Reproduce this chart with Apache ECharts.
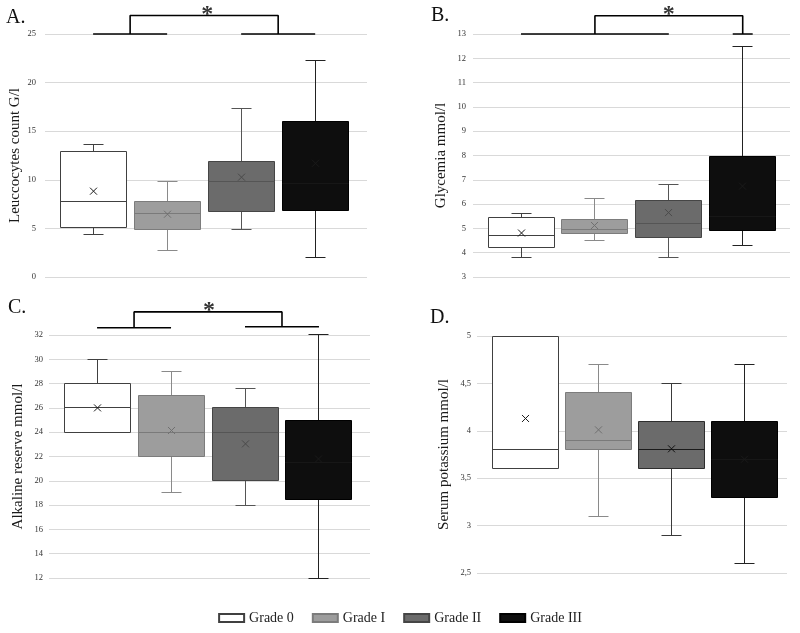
<!DOCTYPE html>
<html><head><meta charset="utf-8">
<script src="https://cdn.jsdelivr.net/npm/echarts@6/dist/echarts.min.js"></script>
<style>html,body{margin:0;padding:0;background:#fff}#c{width:800px;height:633px}</style>
</head><body><div id="c"></div>
<script>
// ---------- DATA ----------
const grades = ['Grade 0', 'Grade I', 'Grade II', 'Grade III'];
// box statistics per grade: [min, Q1, median, Q3, max]
const leucoBox = [[4.4, 5.05, 7.8, 12.95, 13.6], [2.75, 4.88, 6.52, 7.8, 9.86], [4.88, 6.73, 9.86, 11.85, 17.34], [1.96, 6.8, 9.6, 16.04, 22.3]];
const leucoMean = [8.83, 6.46, 10.27, 11.7];
const glyBox = [[3.81, 4.21, 4.70, 5.45, 5.6], [4.51, 4.77, 4.95, 5.35, 6.21], [3.81, 4.61, 5.21, 6.16, 6.82], [4.3, 4.9, 5.5, 7.97, 12.5]];
const glyMean = [4.81, 5.12, 5.65, 6.74];
const alkBox = [[24, 24, 26, 28, 30], [19, 22, 24, 27, 29], [18, 20, 24, 26, 27.6], [12, 18.5, 21.5, 25, 32]];
const alkMean = [26.0, 24.14, 23.04, 21.8];
const potBox = [[3.6, 3.6, 3.8, 5.0, 5.0], [3.1, 3.8, 3.9, 4.4, 4.7], [2.9, 3.6, 3.8, 4.1, 4.5], [2.6, 3.3, 3.7, 4.1, 4.7]];
const potMean = [4.13, 4.01, 3.81, 3.7];

const panelLetters = ['A.', 'B.', 'C.', 'D.'];
const yNames = ['Leuccocytes count G/l', 'Glycemia mmol/l', 'Alkaline reserve mmol/l', 'Serum potassium mmol/l'];
const yMin = [0, 3, 12, 2.5];
const yMax = [25, 13, 32, 5];
const yStep = [5, 1, 2, 0.5];

// significance annotations (in data units: x = grade index, y = axis value)
const sigBaseLines = [
  [[0, 1, 25], [2, 3, 25]],
  [[0, 2, 13], [2.865, 3.135, 13]],
  [[0, 1, 32.6], [2, 3, 32.68]],
  []
];
// [xLeft, xRight, yLeftBase, yRightBase, yTop]
const sigBrackets = [[0.5, 2.5, 25, 25, 26.9], [1, 3, 13, 13, 13.75], [0.5, 2.5, 32.6, 32.68, 33.9], null];

// ---------- STYLE / LAYOUT ----------
const FONT = '"Liberation Serif", "DejaVu Serif", serif';
const fills = ['#ffffff', '#9d9d9d', '#6b6b6b', '#0e0e0e'];
const borders = ['#404040', '#7c7c7c', '#454545', '#000000'];
const whiskers = ['#404040', '#8a8a8a', '#555555', '#222222'];
const medians = ['#404040', '#7a7a7a', '#555555', '#171717'];
const means = ['#1a1a1a', '#707070', '#4a4a4a', '#1a1a1a'];
const grids = [
  { left: 45, top: 34, width: 322, height: 243 },
  { left: 473, top: 34, width: 317, height: 243 },
  { left: 49, top: 335, width: 321, height: 243 },
  { left: 477, top: 336, width: 310, height: 237 }
];
const xRange = [[-0.65, 3.70], [-0.65, 3.64], [-0.65, 3.69], [-0.66, 3.58]];
const labelMargin = [9, 7, 6, 6];
const nameGaps = [22, 24, 23, 25];
const titlePos = [[6, 8], [431, 6], [8, 298], [430, 308]];
const starOffsetX = [3, 0, 1, 0];

const boxes = [leucoBox, glyBox, alkBox, potBox];
const meanVals = [leucoMean, glyMean, alkMean, potMean];

function px(v) { return Math.round(v - 0.5) + 0.5; }
function seg(x1, y1, x2, y2, c) {
  return { type: 'line', shape: { x1: x1, y1: y1, x2: x2, y2: y2 }, style: { stroke: c, lineWidth: 1 } };
}
function makeRender(st) {
  return function (params, api) {
    const x = api.value(0);
    const vmin = api.value(1), q1 = api.value(2), med = api.value(3), q3 = api.value(4), vmax = api.value(5), mean = api.value(6);
    const unit = api.size([1, 0])[0];
    const hw = unit * 0.452, ch = unit * 0.135;
    const cx = px(api.coord([x, med])[0]);
    const y = v => px(api.coord([x, v])[1]);
    const yMn = y(vmin), yQ1 = y(q1), yMd = y(med), yQ3 = y(q3), yMx = y(vmax);
    const yMe = api.coord([x, mean])[1];
    const L = px(cx - hw), R = px(cx + hw);
    const ch2 = Math.round(ch);
    const c = [];
    if (vmin < q1) { c.push(seg(cx, yQ1, cx, yMn, st.whisker), seg(cx - ch2, yMn, cx + ch2, yMn, st.whisker)); }
    if (vmax > q3) { c.push(seg(cx, yQ3, cx, yMx, st.whisker), seg(cx - ch2, yMx, cx + ch2, yMx, st.whisker)); }
    c.push({ type: 'rect', shape: { x: L, y: yQ3, width: R - L, height: yQ1 - yQ3 }, style: { fill: st.fill, stroke: st.border, lineWidth: 1 } });
    c.push(seg(L, yMd, R, yMd, st.median));
    const m = 3.5, mx = cx;
    c.push(seg(mx - m, yMe - m, mx + m, yMe + m, st.mean), seg(mx - m, yMe + m, mx + m, yMe - m, st.mean));
    return { type: 'group', children: c };
  };
}

const option = {
  animation: false,
  backgroundColor: '#ffffff',
  title: panelLetters.map((t, k) => ({
    text: t, left: titlePos[k][0], top: titlePos[k][1], padding: 0,
    textStyle: { fontFamily: FONT, fontSize: 20, fontWeight: 'normal', color: '#111' }
  })),
  legend: {
    data: grades, left: 'center', top: 606, icon: 'rect', itemWidth: 25, itemHeight: 8, itemGap: 18,
    selectedMode: false,
    textStyle: { fontFamily: FONT, fontSize: 14, color: '#222' }
  },
  grid: grids.map(g => Object.assign({ containLabel: false }, g)),
  xAxis: grids.map((g, k) => ({ type: 'value', gridIndex: k, min: xRange[k][0], max: xRange[k][1], show: false })),
  yAxis: grids.map((g, k) => ({
    type: 'value', gridIndex: k, min: yMin[k], max: yMax[k], interval: yStep[k],
    name: yNames[k], nameLocation: 'middle', nameRotate: 90, nameGap: nameGaps[k],
    nameTextStyle: { fontFamily: FONT, fontSize: 15, color: '#1a1a1a' },
    axisLine: { show: false },
    axisTick: { show: false },
    axisLabel: {
      fontFamily: FONT, fontSize: 8.5, color: '#333', margin: labelMargin[k],
      formatter: v => String(v).replace('.', ',')
    },
    splitLine: { lineStyle: { color: '#d9d9d9', width: 1 } }
  })),
  series: []
};

boxes.forEach((panel, k) => {
  panel.forEach((b, i) => {
    const st = {
      fill: fills[i], border: borders[i], whisker: whiskers[i], median: medians[i], mean: means[i]
    };
    if (k === 3 && i === 2) { st.border = '#2e2e2e'; st.median = '#1a1a1a'; st.mean = '#111'; st.whisker = '#3a3a3a'; }
    option.series.push({
      type: 'custom', name: grades[i], xAxisIndex: k, yAxisIndex: k,
      itemStyle: { color: fills[i], borderColor: borders[i], borderWidth: 1 },
      encode: { x: 0, y: [1, 2, 3, 4, 5, 6] },
      data: [[i].concat(b).concat([meanVals[k][i]])],
      renderItem: makeRender(st), z: 2, silent: true
    });
  });
  sigBaseLines[k].forEach(l => {
    option.series.push({
      type: 'line', xAxisIndex: k, yAxisIndex: k, data: [[l[0], l[2]], [l[1], l[2]]],
      symbol: 'none', clip: false, silent: true, z: 5,
      lineStyle: { color: '#000', width: 1.6 }
    });
  });
  const br = sigBrackets[k];
  if (br) {
    option.series.push({
      type: 'line', xAxisIndex: k, yAxisIndex: k,
      data: [[br[0], br[2]], [br[0], br[4]], [br[1], br[4]], [br[1], br[3]]],
      symbol: 'none', clip: false, silent: true, z: 5,
      lineStyle: { color: '#000', width: 1.6 }
    });
    option.series.push({
      type: 'scatter', xAxisIndex: k, yAxisIndex: k,
      data: [[(br[0] + br[1]) / 2, br[4]]], symbolSize: 0, clip: false, silent: true, z: 6,
      label: { show: true, position: 'top', distance: -11, offset: [starOffsetX[k], 0], formatter: '*', fontFamily: FONT, fontSize: 24, fontWeight: 'bold', color: '#000' }
    });
  }
});

const chart = echarts.init(document.getElementById('c'), null, { renderer: 'canvas' });
chart.setOption(option);
</script>
</body></html>
